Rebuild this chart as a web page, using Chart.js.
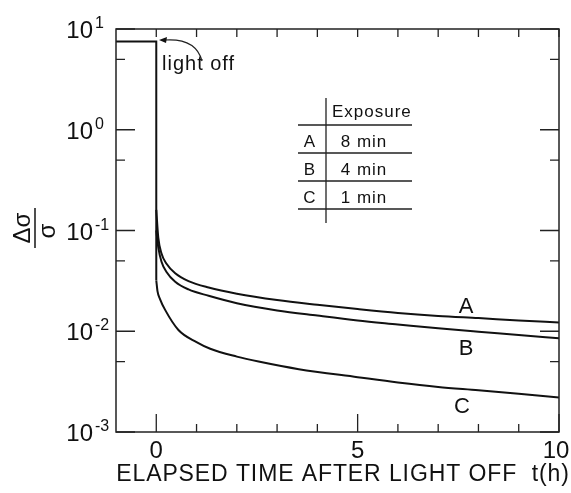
<!DOCTYPE html>
<html>
<head>
<meta charset="utf-8">
<script src="https://cdn.jsdelivr.net/npm/chart.js@4/dist/chart.umd.min.js"></script>
<style>
  html, body { margin: 0; padding: 0; background: #fff; }
  #wrap { width: 571px; height: 493px; }
</style>
</head>
<body>
<div id="wrap"><canvas id="c" width="571" height="493"></canvas></div>
<script>
// Photoconductivity decay after the light is switched off (t in hours)
const timeDark  = [-1, 0, 0];
const sigmaDark = [7.5, 7.5, 0.032];

const timeA  = [0, 0.05, 0.13, 0.25, 0.47, 0.8, 1.3, 2, 3, 4, 5, 6, 7, 8, 9, 10];
const sigmaA = [0.16, 0.085, 0.059, 0.047, 0.0376, 0.0315, 0.0272, 0.0236, 0.0204, 0.0183, 0.0166, 0.0152, 0.0142, 0.0135, 0.0128, 0.0122];

const timeB  = [0, 0.05, 0.13, 0.25, 0.47, 0.8, 1.3, 2, 3, 4, 5, 6, 7, 8, 9, 10];
const sigmaB = [0.1, 0.068, 0.049, 0.039, 0.031, 0.026, 0.0225, 0.019, 0.0161, 0.0143, 0.0128, 0.0117, 0.0107, 0.0099, 0.0092, 0.0085];

const timeC  = [0, 0.03, 0.09, 0.22, 0.55, 1, 1.34, 2, 2.54, 3.54, 5, 6, 7, 8, 9, 10];
const sigmaC = [0.032, 0.025, 0.021, 0.0163, 0.0103, 0.0078, 0.0067, 0.0056, 0.005, 0.0042, 0.0035, 0.0031, 0.0028, 0.0026, 0.0024, 0.0022];

// Exposure table
const seriesNames = ['A', 'B', 'C'];
const exposures   = ['8 min', '4 min', '1 min'];

// Axis ticks and labels
const xTickValues   = [0, 1, 2, 3, 4, 5, 6, 7, 8, 9, 10];
const xMajorValues  = [0, 5, 10];
const xTickLabels   = ['0', '5', '10'];
const yExponents    = [-3, -2, -1, 0, 1];
const yMinorValues  = [0.005, 0.05, 0.5, 5];

const INK = '#111';
const FONT = "'Liberation Sans', 'DejaVu Sans', sans-serif";

const pts = (xs, ys) => xs.map((v, i) => ({ x: v, y: ys[i] }));

const curve = (data) => ({
  data, borderColor: INK, borderWidth: 2, pointRadius: 0,
  cubicInterpolationMode: 'monotone', fill: false
});

const decorations = {
  id: 'decorations',
  afterDatasetsDraw(chart) {
    const { ctx, chartArea: a, scales: { x, y } } = chart;
    ctx.save();

    // frame
    ctx.strokeStyle = '#222';
    ctx.lineWidth = 1.5;
    ctx.strokeRect(a.left, a.top, a.right - a.left, a.bottom - a.top);

    // inward ticks
    ctx.beginPath();
    xTickValues.forEach(v => {
      const px = x.getPixelForValue(v);
      const len = xMajorValues.includes(v) ? 18 : 8;
      ctx.moveTo(px, a.bottom); ctx.lineTo(px, a.bottom - len);
      ctx.moveTo(px, a.top);    ctx.lineTo(px, a.top + 8);
    });
    yExponents.forEach(e => {
      const py = y.getPixelForValue(Math.pow(10, e));
      ctx.moveTo(a.left, py);  ctx.lineTo(a.left + 19, py);
      ctx.moveTo(a.right, py); ctx.lineTo(a.right - 19, py);
    });
    yMinorValues.forEach(v => {
      const py = y.getPixelForValue(v);
      ctx.moveTo(a.left, py);  ctx.lineTo(a.left + 9, py);
      ctx.moveTo(a.right, py); ctx.lineTo(a.right - 9, py);
    });
    ctx.lineWidth = 1.3;
    ctx.stroke();

    ctx.fillStyle = INK;

    // x tick labels
    ctx.font = `24px ${FONT}`;
    ctx.textAlign = 'center';
    ctx.textBaseline = 'alphabetic';
    xMajorValues.forEach((v, i) => {
      ctx.fillText(xTickLabels[i], x.getPixelForValue(v) - (v === 10 ? 3 : 0), a.bottom + 26);
    });

    // y tick labels: 10 with superscript exponent
    yExponents.forEach(e => {
      const py = y.getPixelForValue(Math.pow(10, e));
      ctx.font = `24px ${FONT}`;
      ctx.textAlign = 'right';
      ctx.fillText('10', 93, py + 9);
      ctx.font = `16px ${FONT}`;
      ctx.textAlign = 'left';
      ctx.fillText(String(e), 95, py - 1);
    });

    // x axis title
    ctx.font = `23px ${FONT}`;
    ctx.textAlign = 'center';
    ctx.letterSpacing = '0.9px';
    ctx.fillText('ELAPSED TIME AFTER LIGHT OFF  t(h)', 343, 481);
    ctx.letterSpacing = '0px';

    // y axis title: Δσ / σ, rotated
    ctx.save();
    ctx.translate(35, 228);
    ctx.rotate(-Math.PI / 2);
    ctx.font = `24px ${FONT}`;
    ctx.textAlign = 'center';
    ctx.fillText('Δσ', 0, -5);
    ctx.fillText('σ', -3, 20);
    ctx.beginPath();
    ctx.moveTo(-20, 0); ctx.lineTo(20, 0);
    ctx.lineWidth = 1.6;
    ctx.stroke();
    ctx.restore();

    // "light off" note with curved arrow
    ctx.font = `20px ${FONT}`;
    ctx.textAlign = 'left';
    ctx.letterSpacing = '1px';
    ctx.fillText('light off', 162, 70);
    ctx.letterSpacing = '0px';
    ctx.beginPath();
    ctx.moveTo(202, 61);
    ctx.quadraticCurveTo(196, 38, 165, 40);
    ctx.lineWidth = 1.2;
    ctx.stroke();
    ctx.beginPath();
    ctx.moveTo(159, 40); ctx.lineTo(167, 37); ctx.lineTo(166, 43); ctx.closePath();
    ctx.fill();

    // curve labels
    ctx.font = `22px ${FONT}`;
    ctx.textAlign = 'center';
    ctx.fillText(seriesNames[0], 466, 313);
    ctx.fillText(seriesNames[1], 466, 355);
    ctx.fillText(seriesNames[2], 462, 413);

    // exposure table
    ctx.beginPath();
    ctx.moveTo(326, 98); ctx.lineTo(326, 223);
    [125, 153, 181, 209].forEach(ly => { ctx.moveTo(298, ly); ctx.lineTo(412, ly); });
    ctx.lineWidth = 1.3;
    ctx.stroke();
    ctx.font = `17px ${FONT}`;
    ctx.letterSpacing = '1px';
    ctx.textAlign = 'left';
    ctx.fillText('Exposure', 332, 117);
    const rowBase = [147, 175, 203];
    seriesNames.forEach((n, i) => {
      ctx.textAlign = 'center';
      ctx.fillText(n, 310, rowBase[i]);
      ctx.fillText(exposures[i], 364, rowBase[i]);
    });
    ctx.letterSpacing = '0px';

    ctx.restore();
  }
};

new Chart(document.getElementById('c'), {
  type: 'line',
  data: {
    datasets: [
      { ...curve(pts(timeDark, sigmaDark)), cubicInterpolationMode: 'default', tension: 0 },
      curve(pts(timeA, sigmaA)),
      curve(pts(timeB, sigmaB)),
      curve(pts(timeC, sigmaC))
    ]
  },
  options: {
    responsive: false,
    animation: false,
    devicePixelRatio: 1,
    layout: { padding: { left: 116, top: 29, right: 12, bottom: 61 } },
    plugins: { legend: { display: false }, tooltip: { enabled: false } },
    scales: {
      x: { type: 'linear', min: -1, max: 10, display: false },
      y: { type: 'logarithmic', min: 0.001, max: 10, display: false }
    }
  },
  plugins: [decorations]
});
</script>
</body>
</html>
